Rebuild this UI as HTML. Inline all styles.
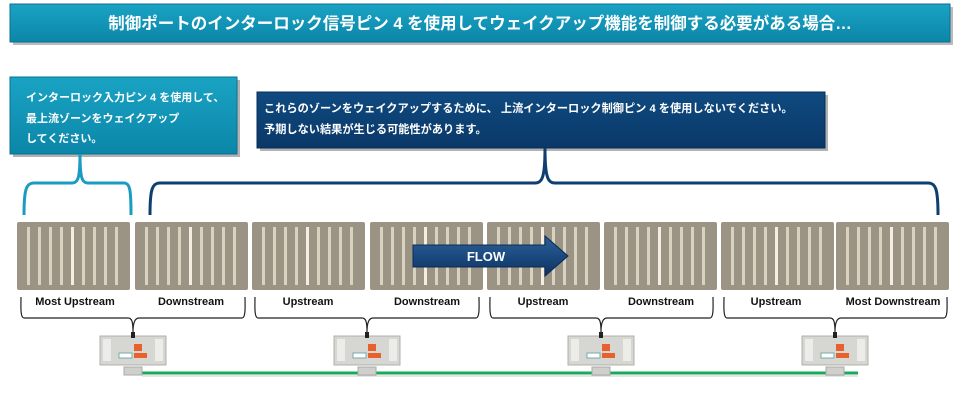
<!DOCTYPE html>
<html><head><meta charset="utf-8"><style>
body{margin:0;background:#fff;}
svg{display:block;font-family:"Liberation Sans","Noto Sans CJK JP",sans-serif;}
</style></head><body>
<svg width="961" height="401" viewBox="0 0 961 401" xmlns="http://www.w3.org/2000/svg">
<defs>
<linearGradient id="teal" x1="0" y1="0" x2="0" y2="1"><stop offset="0" stop-color="#1aa3c4"/><stop offset="1" stop-color="#0b86a8"/></linearGradient>
<linearGradient id="navy" x1="0" y1="0" x2="0" y2="1"><stop offset="0" stop-color="#0f4a80"/><stop offset="1" stop-color="#0a3868"/></linearGradient>
<linearGradient id="flow" x1="0" y1="0" x2="0" y2="1"><stop offset="0" stop-color="#2c5f96"/><stop offset="0.5" stop-color="#1b4a80"/><stop offset="1" stop-color="#0e3260"/></linearGradient>
<g id="panel">
<rect x="0" y="0" width="113" height="68" rx="2" fill="#9b9384"/>
<g fill="#d8d2c0">
<rect x="10" y="5" width="3" height="58"/><rect x="21" y="5" width="3" height="58"/><rect x="32" y="5" width="3" height="58"/><rect x="43" y="5" width="3" height="58"/>
<rect x="54" y="5" width="3" height="58" fill="#f2eee2"/><rect x="65" y="5" width="3" height="58"/><rect x="76" y="5" width="3" height="58"/><rect x="87" y="5" width="3" height="58"/><rect x="98" y="5" width="3" height="58"/>
</g>
</g>
<g id="ctrl">
<rect x="-33" y="0" width="66" height="29" fill="#d6d6d2" stroke="#b0b0aa"/>
<rect x="-30" y="3" width="8" height="22" fill="#ecece8"/><rect x="22" y="3" width="8" height="22" fill="#ecece8"/>
<rect x="-2" y="-4" width="4" height="6" fill="#222"/>
<rect x="1" y="8" width="8" height="7" fill="#e8602c"/>
<rect x="-14" y="17" width="13" height="5" fill="#fff" stroke="#7aa"/>
<rect x="1" y="17" width="13" height="5" fill="#e8602c"/>
<rect x="-9" y="31" width="18" height="8" fill="#cfcfcb" stroke="#aaa"/>
</g>
</defs>
<rect x="13" y="7" width="940" height="38" fill="#777" opacity="0.5"/>
<rect x="10" y="4" width="940" height="38" fill="url(#teal)" stroke="#0a7090"/>
<text x="480" y="29" text-anchor="middle" font-size="16.5" font-weight="bold" fill="#fff">制御ポートのインターロック信号ピン 4 を使用してウェイクアップ機能を制御する必要がある場合…</text>
<rect x="13" y="80" width="227" height="77" fill="#666" opacity="0.5"/>
<rect x="10" y="77" width="227" height="77" fill="url(#teal)" stroke="#0a7090"/>
<g font-size="11" font-weight="bold" fill="#fff">
<text x="26" y="101">インターロック入力ピン 4 を使用して、</text>
<text x="26" y="122">最上流ゾーンをウェイクアップ</text>
<text x="26" y="142">してください。</text>
</g>
<rect x="260" y="95" width="568" height="56" fill="#666" opacity="0.5"/>
<rect x="257" y="92" width="568" height="56" fill="url(#navy)" stroke="#082c55"/>
<g font-size="11.2" font-weight="bold" fill="#fff">
<text x="264" y="112">これらのゾーンをウェイクアップするために、 上流インターロック制御ピン 4 を使用しないでください。</text>
<text x="264" y="133">予期しない結果が生じる可能性があります。</text>
</g>
<path d="M24,215 C24,190 26,183 34,183 L72,183 C78,183 80,178 80,154 C80,178 82,183 88,183 L124,183 C130,183 131,190 131,215" fill="none" stroke="#1a9cc0" stroke-width="3"/>
<path d="M150,215 C150,190 152,183 160,183 L535,183 C542,183 545,178 545,148 C545,178 548,183 555,183 L928,183 C936,183 938,190 938,215" fill="none" stroke="#0d3f70" stroke-width="3"/>
<use href="#panel" x="17" y="222"/><use href="#panel" x="135" y="222"/><use href="#panel" x="252" y="222"/><use href="#panel" x="370" y="222"/>
<use href="#panel" x="487" y="222"/><use href="#panel" x="604" y="222"/><use href="#panel" x="721" y="222"/><use href="#panel" x="836" y="222"/>
<path d="M413,245 L545,245 L545,236 L568,256 L545,276 L545,267 L413,267 Z" fill="url(#flow)" stroke="#0b2b55"/>
<text x="486" y="261" text-anchor="middle" font-size="13" font-weight="bold" fill="#fff">FLOW</text>
<g font-size="11" font-weight="bold" fill="#111" text-anchor="middle">
<text x="75" y="305">Most Upstream</text><text x="191" y="305">Downstream</text>
<text x="308" y="305">Upstream</text><text x="427" y="305">Downstream</text>
<text x="543" y="305">Upstream</text><text x="661" y="305">Downstream</text>
<text x="776" y="305">Upstream</text><text x="893" y="305">Most Downstream</text>
</g>
<g fill="none" stroke="#222" stroke-width="1.2">
<path d="M21,297 C21,305 20,318 24,318 L128,318 C132,318 133,322 133,332 C133,322 135,318 139,318 L242,318 C246,318 245,305 245,297"/>
<path d="M255,297 C255,305 254,318 258,318 L362,318 C366,318 367,322 367,332 C367,322 369,318 373,318 L476,318 C480,318 479,305 479,297"/>
<path d="M490,297 C490,305 489,318 493,318 L596,318 C600,318 601,322 601,332 C601,322 603,318 607,318 L710,318 C714,318 713,305 713,297"/>
<path d="M724,297 C724,305 723,318 727,318 L830,318 C834,318 835,322 835,332 C835,322 837,318 841,318 L944,318 C948,318 947,305 947,297"/>
</g>
<line x1="142" y1="373" x2="858" y2="373" stroke="#1aa85a" stroke-width="3"/>
<line x1="142" y1="376" x2="858" y2="376" stroke="#ccc" stroke-width="1"/>
<use href="#ctrl" x="133" y="336"/><use href="#ctrl" x="367" y="336"/><use href="#ctrl" x="601" y="336"/><use href="#ctrl" x="835" y="336"/>
</svg>
</body></html>
